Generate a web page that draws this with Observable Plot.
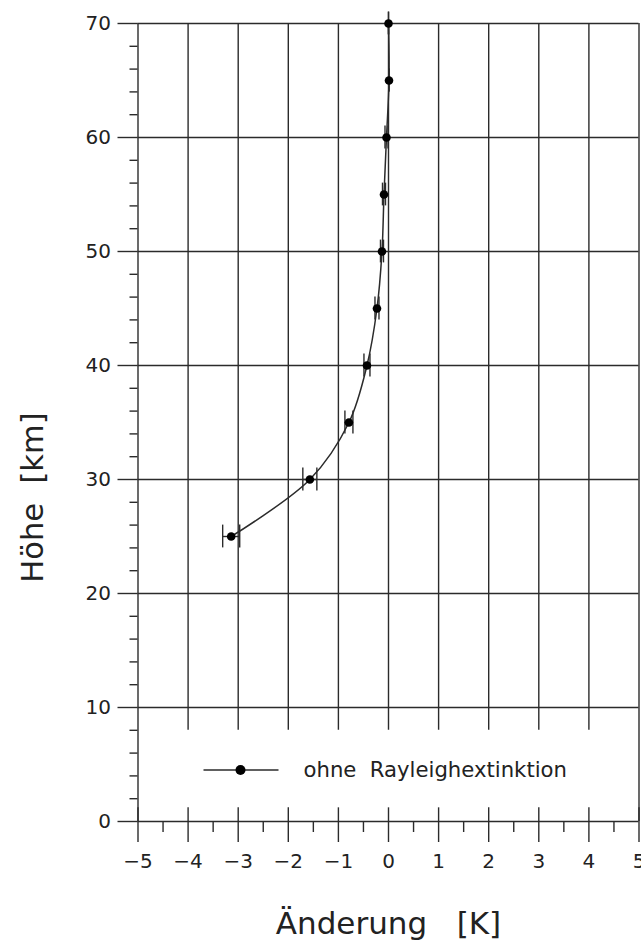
<!DOCTYPE html>
<html>
<head>
<meta charset="utf-8">
<script src="https://cdn.jsdelivr.net/npm/d3@7"></script>
<script src="https://cdn.jsdelivr.net/npm/@observablehq/plot@0.6"></script>
<style>
  html, body { margin: 0; padding: 0; background: #fff; }
  #chart svg { display: block; }
</style>
</head>
<body>
<div id="chart"></div>
<script>
// Profile: altitude (km), temperature change (K) and its uncertainty (K)
const hoehe     = [25, 30, 35, 40, 45, 50, 55, 60, 65, 70];
const aenderung = [-3.14, -1.57, -0.79, -0.43, -0.23, -0.13, -0.09, -0.04, 0.01, 0.0];
const fehler    = [0.17, 0.14, 0.08, 0.06, 0.04, 0.03, 0.03, 0.03, 0.0, 0.0];

// Axis ticks
const xMajor = [-5, -4, -3, -2, -1, 0, 1, 2, 3, 4, 5];
const xInner = [-4, -3, -2, -1, 0, 1, 2, 3, 4];
const xMinor = [-4.5, -3.5, -2.5, -1.5, -0.5, 0.5, 1.5, 2.5, 3.5, 4.5];
const yMajor = [0, 10, 20, 30, 40, 50, 60, 70];
const yGrid  = [10, 20, 30, 40, 50, 60, 70];
const yMinor = [2, 4, 6, 8, 12, 14, 16, 18, 22, 24, 26, 28, 32, 34, 36, 38,
                42, 44, 46, 48, 52, 54, 56, 58, 62, 64, 66, 68];

const serieName = "ohne Rayleighextinktion";
const xTitle = "Änderung\u00a0\u00a0\u00a0[K]";
const yTitle = "Höhe\u00a0\u00a0[km]";

const data = hoehe.map((h, i) => ({h, x: aenderung[i], e: fehler[i]}));

const ink = "#2b2b2b";
const lw = 1.4;

// Legend drawn inside the frame, near its lower left corner
function legendMark(index, scales, values, dimensions) {
  const left = dimensions.marginLeft;
  const bottom = dimensions.height - dimensions.marginBottom;
  const cy = bottom - 51;
  const g = d3.create("svg:g");
  g.append("line")
    .attr("x1", left + 66).attr("x2", left + 141)
    .attr("y1", cy).attr("y2", cy)
    .attr("stroke", ink).attr("stroke-width", lw);
  g.append("circle")
    .attr("cx", left + 103).attr("cy", cy).attr("r", 5)
    .attr("fill", "#000");
  g.append("text")
    .attr("x", left + 166).attr("y", cy).attr("dy", "0.32em")
    .attr("text-anchor", "start")
    .attr("fill", "#222")
    .attr("font-family", "DejaVu Sans")
    .attr("font-size", 21.2)
    .text(serieName.replace(" ", "\u00a0\u00a0"));
  return g.node();
}

const chart = Plot.plot({
  width: 641,
  height: 942,
  marginLeft: 137.5,
  marginRight: 2.5,
  marginTop: 23,
  marginBottom: 121,
  style: {fontFamily: "DejaVu Sans", fontSize: "20px", color: "#222", background: "#fff"},
  x: {domain: [-5, 5]},
  y: {domain: [0, 70]},
  marks: [
    // grid
    Plot.ruleY(yGrid, {x1: -5, x2: 5, stroke: ink, strokeWidth: lw}),
    Plot.ruleX(xInner, {y1: 8, y2: 70, stroke: ink, strokeWidth: lw}),
    Plot.ruleX([-5, 5], {y1: 0, y2: 70, stroke: ink, strokeWidth: lw}),
    Plot.ruleY([0], {x1: -5, x2: 5, stroke: ink, strokeWidth: lw}),
    // x axis: major ticks cross the baseline
    Plot.ruleX(xMajor, {y1: 0, y2: 1.2, stroke: ink, strokeWidth: lw}),
    Plot.axisX({ticks: xMajor, tickSize: 21, tickPadding: 11, label: null,
                stroke: ink, strokeWidth: lw, fontSize: 20}),
    Plot.axisX({ticks: xMinor, tickSize: 11, label: null, tickFormat: () => "",
                stroke: ink, strokeWidth: lw}),
    // y axis
    Plot.axisY({ticks: yMajor, tickSize: 20, tickPadding: 7, label: null,
                stroke: ink, strokeWidth: lw, fontSize: 20}),
    Plot.axisY({ticks: yMinor, tickSize: 8, label: null, tickFormat: () => "",
                stroke: ink, strokeWidth: lw}),
    // axis titles
    Plot.text([xTitle], {frameAnchor: "bottom", lineAnchor: "bottom", textAnchor: "middle",
                         dy: 112, fontSize: 31, fill: "#222"}),
    Plot.text([yTitle], {frameAnchor: "left", lineAnchor: "bottom", textAnchor: "middle",
                         rotate: -90, dx: -95.5, dy: 75, fontSize: 30.5, fill: "#222"}),
    // error bars
    Plot.ruleY(data, {y: "h", x1: d => d.x - d.e, x2: d => d.x + d.e, stroke: ink, strokeWidth: lw}),
    Plot.ruleX(data, {x: d => d.x - d.e, y1: d => d.h - 1, y2: d => d.h + 1, stroke: ink, strokeWidth: lw}),
    Plot.ruleX(data, {x: d => d.x + d.e, y1: d => d.h - 1, y2: d => d.h + 1, stroke: ink, strokeWidth: lw}),
    // profile
    Plot.line(data, {x: "x", y: "h", curve: "catmull-rom", stroke: ink, strokeWidth: 1.5}),
    Plot.dot(data, {x: "x", y: "h", r: 4.3, fill: "#000"}),
    legendMark
  ]
});

document.getElementById("chart").appendChild(chart);
</script>
</body>
</html>
